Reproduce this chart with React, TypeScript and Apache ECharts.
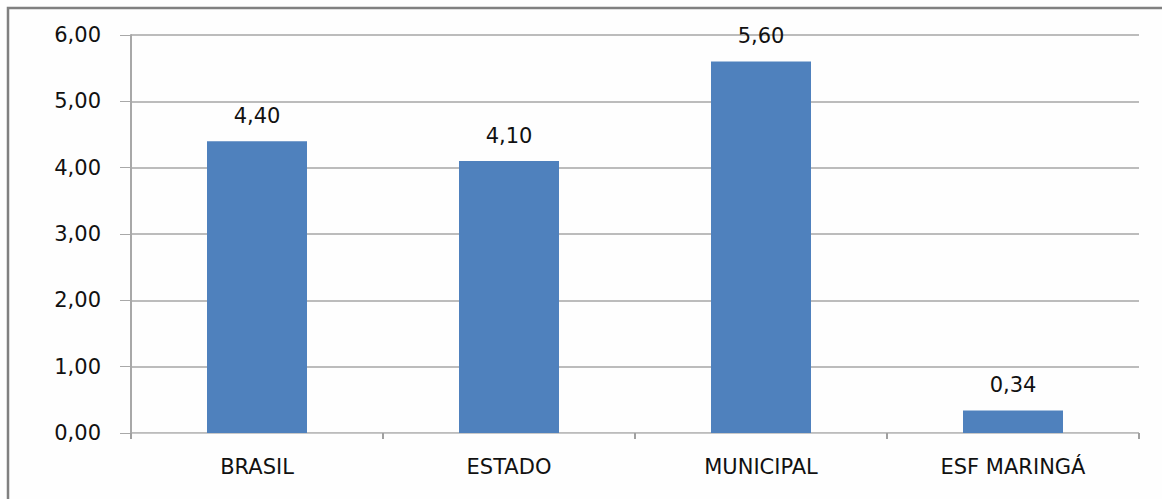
import React, { useEffect, useRef } from "react";
import * as echarts from "echarts";

const categories = ["BRASIL", "ESTADO", "MUNICIPAL", "ESF MARINGÁ"];
const values = [4.4, 4.1, 5.6, 0.34];
const yTicks = { min: 0, max: 6, interval: 1 };

const fmt = (v: number) => v.toFixed(2).replace(".", ",");

export default function App() {
  const ref = useRef<HTMLDivElement>(null);
  useEffect(() => {
    if (!ref.current) return;
    const chart = echarts.init(ref.current, null, { renderer: "svg" });
    chart.setOption({
      animation: false,
      backgroundColor: "#fefefe",
      textStyle: { fontFamily: "DejaVu Sans" },
      graphic: [
        {
          type: "rect",
          shape: { x: 8, y: 8, width: 1200, height: 600 },
          style: { fill: "none", stroke: "#808080", lineWidth: 2.5 },
          silent: true,
        },
      ],
      grid: { left: 131, right: 23, top: 35, bottom: 66, containLabel: false },
      xAxis: {
        type: "category",
        data: categories,
        axisLine: { show: true, lineStyle: { color: "#c8c8c8", width: 1 } },
        axisTick: { show: true, alignWithLabel: false, length: 6, lineStyle: { color: "#a0a0a0", width: 2 } },
        axisLabel: { color: "#111", fontSize: 21, margin: 23 },
      },
      yAxis: {
        type: "value",
        min: yTicks.min,
        max: yTicks.max,
        interval: yTicks.interval,
        axisLine: { show: true, lineStyle: { color: "#a8a8a8", width: 2 } },
        axisTick: { show: true, length: 11, lineStyle: { color: "#a8a8a8", width: 1 } },
        splitLine: { show: true, lineStyle: { color: "#a6a6a6", width: 1.5 } },
        axisLabel: { color: "#111", fontSize: 21, margin: 30, formatter: (v: number) => fmt(v) },
      },
      series: [
        {
          type: "bar",
          data: values,
          barWidth: 100,
          itemStyle: { color: "#4f81bd" },
          label: {
            show: true,
            position: "top",
            distance: 15,
            color: "#111",
            fontSize: 21,
            formatter: (p: any) => fmt(p.value),
          },
        },
      ],
    });
    return () => chart.dispose();
  }, []);
  return (
    <div
      ref={ref}
      style={{ position: "fixed", left: 0, top: 0, width: 1162, height: 499 }}
    />
  );
}
